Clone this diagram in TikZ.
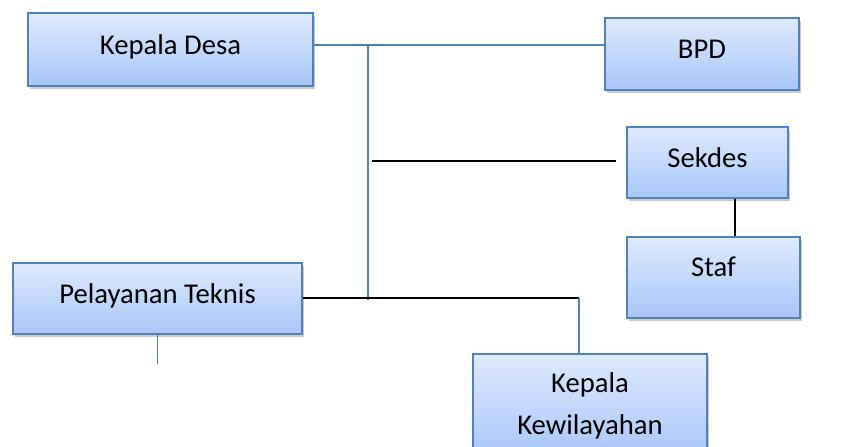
\documentclass[tikz,border=0pt]{standalone}
\usepackage{fontspec}
\setmainfont{Carlito}
\usetikzlibrary{shadows}

\definecolor{boxtop}{RGB}{223,234,252}
\definecolor{boxbot}{RGB}{168,198,248}
\definecolor{boxedge}{RGB}{79,129,189}
\definecolor{linkblue}{RGB}{79,129,189}

\tikzset{every picture/.style={line width=0.75pt}}
\tikzset{
  orgbox/.style={draw=boxedge, line width=1.5pt, top color=boxtop, bottom color=boxbot,
    drop shadow={shadow xshift=1.5pt, shadow yshift=-2.5pt, opacity=0.35, fill=black!60},
    inner sep=0pt, font=\fontsize{21.5}{31.5}\selectfont, text height=15pt, text depth=8pt},
  bluelink/.style={draw=linkblue, line width=1.1pt},
  blacklink/.style={draw=black, line width=1.1pt},
}

\begin{document}
\begin{tikzpicture}[x=0.75pt,y=0.75pt,yscale=-1,xscale=1]
\useasboundingbox (0,0) rectangle (848,446);

% Boxes
\node [orgbox, minimum width=213.75pt, minimum height=54.75pt] (kades) at (170.5,49.5) {Kepala Desa};
\node [orgbox, minimum width=145.5pt, minimum height=54pt] (bpd) at (702,54) {BPD};
\node [orgbox, minimum width=120.75pt, minimum height=53.25pt] (sekdes) at (707.5,162.5) {Sekdes};
\node [orgbox, minimum width=129.75pt, minimum height=60.75pt, text depth=17pt] (staf) at (713.5,277.5) {Staf};
\node [orgbox, minimum width=216.75pt, minimum height=53.25pt] (pelayanan) at (157.5,298.5) {Pelayanan Teknis};
\node [orgbox, minimum width=175.5pt, minimum height=78pt, align=center, text height=, text depth=] (kewil) at (590,406) {Kepala\\Kewilayahan};

% Coordinates
\coordinate (spinetop) at (368,45);
\coordinate (spinebot) at (368,300);
\coordinate (sekdesleft) at (372,161);
\coordinate (sekdesright) at (616,161);
\coordinate (kewilbend) at (579,298);
\coordinate (stafx) at (735,0);

%Straight Lines
\draw [bluelink] (kades.east |- spinetop) -- (bpd.west |- spinetop);
\draw [bluelink] (spinetop) -- (spinebot);
\draw [blacklink] (sekdesleft) -- (sekdesright);
\draw [blacklink] (pelayanan.east |- kewilbend) -- (kewilbend);
\draw [bluelink] (kewilbend) -- (kewilbend |- kewil.north);
\draw [blacklink] (sekdes.south -| stafx) -- (staf.north -| stafx);
\draw [bluelink] (pelayanan.south) -- ++(0,29) coordinate (pelayananend);

\end{tikzpicture}
\end{document}
